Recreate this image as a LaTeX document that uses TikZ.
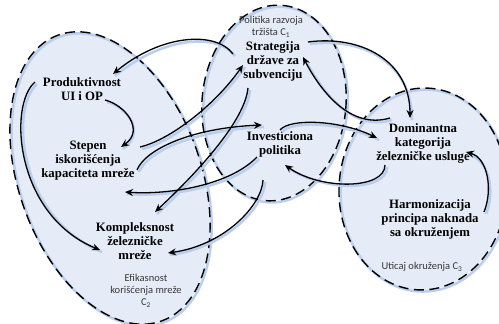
\documentclass[tikz,border=0pt]{standalone}
\usepackage{fontspec}
\setmainfont{Liberation Serif}
\newfontfamily\labfont{Carlito}
\usetikzlibrary{arrows.meta}
\definecolor{ellfill}{RGB}{229,236,247}
\definecolor{shc}{RGB}{186,206,238}
\definecolor{labc}{RGB}{55,55,55}
\tikzset{
 main/.style={font=\fontsize{12.8}{14}\selectfont\bfseries, align=center, inner sep=0pt},
 lab/.style={font=\labfont\fontsize{10.5}{12}\selectfont, text=labc, align=center, inner sep=0pt},
 region/.style={fill=ellfill},
 regionshadow/.style={draw=shc, line width=2.5pt, transform canvas={shift={(1.6pt,-1.6pt)}}},
 regionline/.style={draw=black, line width=1.4pt, dash pattern=on 10pt off 5.5pt},
 linkshadow/.style={draw=shc, line width=2.6pt, transform canvas={shift={(2pt,-2pt)}}},
 link/.style={draw=black, line width=1.3pt, -{Stealth[length=8pt,width=7pt]}},
}
\newcommand\regionpaths[1]{%
 \path[#1, rotate around={20:(110,178)}] (110,178) ellipse [x radius=91, y radius=152];
 \path[#1, rotate around={-5:(274,103)}] (274,103) ellipse [x radius=72, y radius=98];
 \path[#1, rotate around={-3:(423,189)}] (423,189) ellipse [x radius=84, y radius=101];
}
\newcommand\drawlinks[1]{%
 \draw[#1] ([shift={(-40,-7)}]strat.center) .. controls (215,30) and (160,35) .. ([shift={(31,-15)}]prod.center);
 \draw[#1] ([shift={(23,11)}]prod.center) .. controls (125,105) and (145,130) .. ([shift={(33,-14)}]step.center);
 \draw[#1] ([shift={(-47,-7)}]prod.center) .. controls (8,105) and (15,215) .. ([shift={(-35,9)}]komp.center);
 \draw[#1] ([shift={(52,-14)}]step.center) .. controls (170,140) and (215,105) .. ([shift={(-30,4)}]strat.center);
 \draw[#1] ([shift={(49,9)}]step.center) .. controls (145,150) and (190,128) .. ([shift={(-18,-19)}]inv.center);
 \draw[#1] ([shift={(-23,13)}]inv.center) .. controls (230,185) and (170,195) .. ([shift={(37,31)}]step.center);
 \draw[#1] ([shift={(-25,27)}]strat.center) .. controls (245,120) and (200,170) .. ([shift={(20,-29)}]komp.center);
 \draw[#1] ([shift={(-17,36)}]inv.center) .. controls (262,205) and (225,245) .. ([shift={(33,12)}]komp.center);
 \draw[#1] ([shift={(35,-19)}]strat.center) .. controls (360,35) and (410,60) .. ([shift={(-13,-25)}]dom.center);
 \draw[#1] ([shift={(-33,-25)}]dom.center) .. controls (350,130) and (320,90) .. ([shift={(30,-4)}]strat.center);
 \draw[#1] ([shift={(0,-14)}]inv.center) .. controls (290,118) and (340,120) .. ([shift={(-46,-5)}]dom.center);
 \draw[#1] ([shift={(-38,22)}]dom.center) .. controls (385,190) and (320,190) .. ([shift={(5,21)}]inv.center);
 \draw[#1] ([shift={(54,-7)}]harm.center) .. controls (493,190) and (488,158) .. ([shift={(43,9)}]dom.center);
}
\begin{document}
\begin{tikzpicture}[x=1pt,y=-1pt]
\useasboundingbox (0,0) rectangle (499,324);
\regionpaths{region}
\regionpaths{regionshadow}
\regionpaths{regionline}
\node[main] (prod) at (82,89) {Produktivnost\\UI i OP};
\node[main] (step) at (88,161) {Stepen\\iskorišćenja\\kapaciteta mreže};
\node[main] (komp) at (135,241) {Kompleksnost\\železničke\\mreže};
\node[lab] (efik) at (146,291) {Efikasnost\\korišćenja mreže\\C\textsubscript{2}};
\node[lab] (polc) at (271,27) {Politika razvoja\\tržišta C\textsubscript{1}};
\node[main] (strat) at (273,61) {Strategija\\države za\\subvenciju};
\node[main] (inv) at (280,144) {Investiciona\\politika};
\node[main] (dom) at (423,143) {Dominantna\\kategorija\\železničke usluge};
\node[main] (harm) at (430,219) {Harmonizacija\\principa naknada\\sa okruženjem};
\node[lab] (utic) at (422,267) {Uticaj okruženja C\textsubscript{3}};
\drawlinks{linkshadow}
\drawlinks{link}
\end{tikzpicture}
\end{document}
